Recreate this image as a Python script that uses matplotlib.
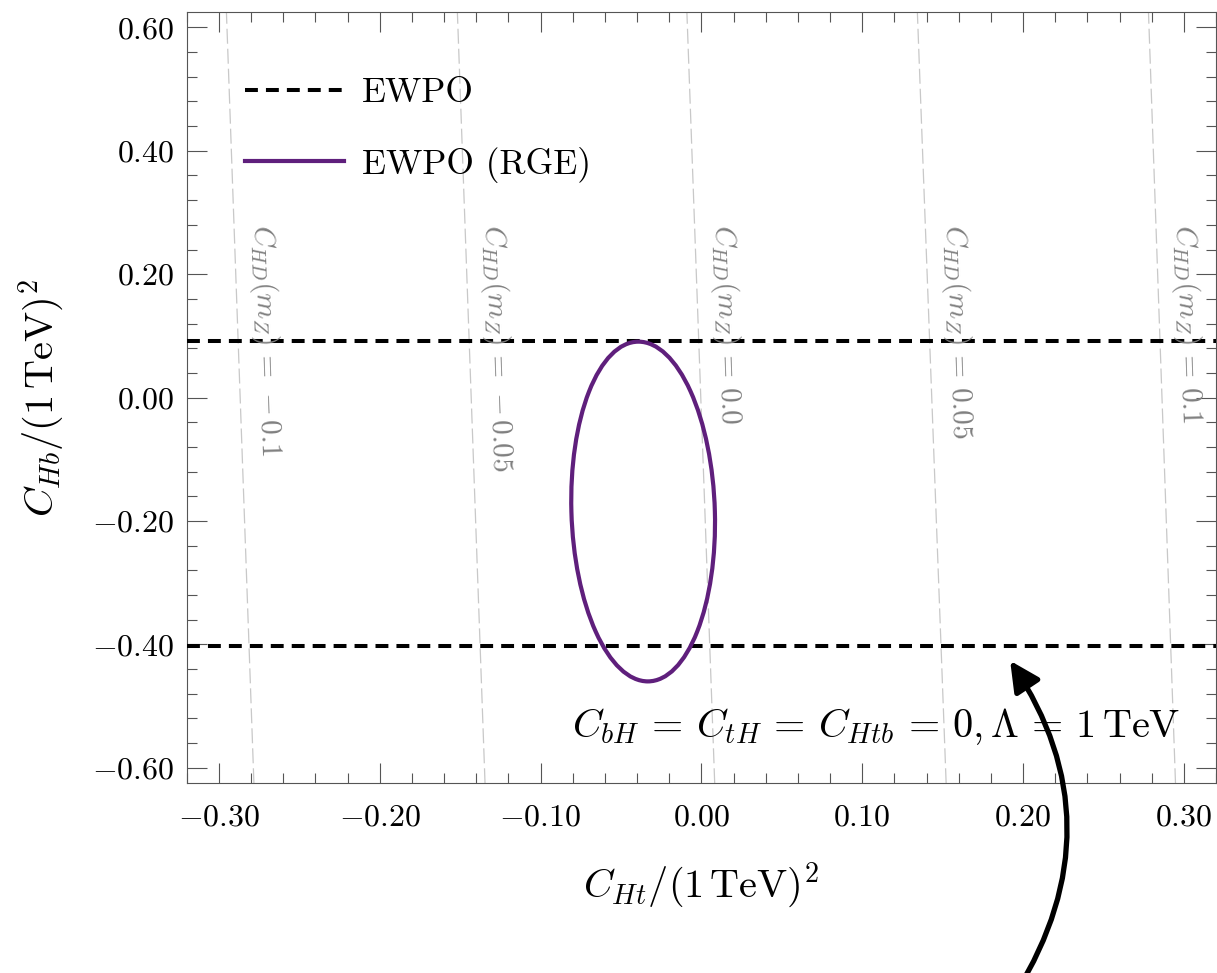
import numpy as np
import matplotlib
matplotlib.use('Agg')
import matplotlib.pyplot as plt
from matplotlib.patches import Ellipse
from matplotlib.lines import Line2D
from matplotlib.ticker import MultipleLocator, FuncFormatter

plt.rcParams['font.family'] = 'serif'
plt.rcParams['font.serif'] = ['cmr10']
plt.rcParams['mathtext.fontset'] = 'cm'
plt.rcParams['axes.formatter.use_mathtext'] = True

# EWPO bounds on C_Hb (horizontal dashed lines)
ewpo_chb = [0.091, -0.403]

# EWPO (RGE) ellipse: centre, half extents along x / y, correlation
rge_center = (-0.0362, -0.1846)
rge_half_x = 0.0447
rge_half_y = 0.2753
rge_rho = -0.065

# lines of constant C_HD(m_Z): C_Ht where they cross the bottom / top of the frame
chd_labels = ['-0.1', '-0.05', '0.0', '0.05', '0.1']
chd_x_bottom = [-0.2782, -0.1345, 0.0083, 0.1522, 0.2948]
chd_x_top = [-0.2953, -0.1517, -0.0090, 0.1343, 0.2780]

xlim = (-0.32, 0.32)
ylim = (-0.625, 0.625)
purple = '#5f1f7c'


def tick_fmt(v, pos):
    if abs(v) < 1e-9:
        v = 0.0
    return f'${v:.2f}$'


fig = plt.figure(figsize=(12.17, 9.73), dpi=100)
ax = fig.add_axes([0.1534, 0.1950, 0.8458, 0.7927])
ax.set_xlim(*xlim)
ax.set_ylim(*ylim)

# C_HD contours
label_y = 0.28
for lab, xb, xt in zip(chd_labels, chd_x_bottom, chd_x_top):
    ax.plot([xb, xt], ylim, color='#c8c8c8', lw=0.9, ls=(0, (12, 4)), zorder=1)
    xl = xb + (xt - xb) * (label_y - ylim[0]) / (ylim[1] - ylim[0])
    ax.annotate(r'$C_{HD}(m_Z)\,=\,%s$' % lab, xy=(xl, label_y), xytext=(20, 0),
                textcoords='offset points', rotation=-88, rotation_mode='anchor',
                ha='left', va='center', color='#808080', fontsize=21, zorder=3.5)

# EWPO lines
for yv in ewpo_chb:
    ax.axhline(yv, color='black', lw=2.9, ls=(0, (3.2, 2.0)), zorder=3)

# EWPO (RGE) ellipse
cov = np.array([[rge_half_x**2, rge_rho * rge_half_x * rge_half_y],
                [rge_rho * rge_half_x * rge_half_y, rge_half_y**2]])
vals, vecs = np.linalg.eigh(cov)
ang = np.degrees(np.arctan2(vecs[1, 1], vecs[0, 1]))
ell = Ellipse(rge_center, 2 * np.sqrt(vals[1]), 2 * np.sqrt(vals[0]), angle=ang,
              fill=False, edgecolor=purple, lw=3, zorder=4)
ax.add_patch(ell)

ax.text(0.2977, -0.5495,
        r'$C_{bH}\,=\,C_{tH}\,=\,C_{Htb}\,=\,0, \Lambda\,=\,1\,\mathrm{TeV}$',
        ha='right', va='baseline', fontsize=29, zorder=5)

ax.annotate('', xy=(0.192, -0.4265), xycoords='data', xytext=(0.835, -0.02),
            textcoords='figure fraction', annotation_clip=False,
            arrowprops=dict(arrowstyle='-|>,head_length=0.9,head_width=0.45',
                            connectionstyle='arc3,rad=0.32', color='black', lw=3.8,
                            mutation_scale=20, shrinkA=0, shrinkB=0), zorder=6)

handles = [Line2D([], [], color='black', lw=2.9, ls=(0, (3.2, 2.0))),
           Line2D([], [], color=purple, lw=3)]
ax.legend(handles, ['EWPO', 'EWPO (RGE)'], loc='upper left', bbox_to_anchor=(0.0564, 0.915),
          frameon=False, fontsize=25.5, handlelength=2.8, handletextpad=0.5,
          labelspacing=1.05, borderpad=0, borderaxespad=0)

ax.xaxis.set_major_locator(MultipleLocator(0.1))
ax.xaxis.set_minor_locator(MultipleLocator(0.02))
ax.yaxis.set_major_locator(MultipleLocator(0.2))
ax.yaxis.set_minor_locator(MultipleLocator(0.04))
ax.xaxis.set_major_formatter(FuncFormatter(tick_fmt))
ax.yaxis.set_major_formatter(FuncFormatter(tick_fmt))
ax.tick_params(which='both', direction='in', top=True, right=True, color='#555555',
               width=0.8, labelsize=23)
ax.tick_params(which='major', length=14.4)
ax.tick_params(which='minor', length=7.2)
ax.tick_params(axis='x', pad=15)
ax.tick_params(axis='y', pad=8.6)
for s in ax.spines.values():
    s.set_color('#555555')
    s.set_linewidth(0.8)

ax.set_xlabel(r'$C_{Ht}/(1\,\mathrm{TeV})^2$', fontsize=29)
ax.set_ylabel(r'$C_{Hb}/(1\,\mathrm{TeV})^2$', fontsize=29)
ax.xaxis.set_label_coords(0.5, -0.0997)
ax.yaxis.set_label_coords(-0.117, 0.5)

fig.savefig('out.png', dpi=100)
